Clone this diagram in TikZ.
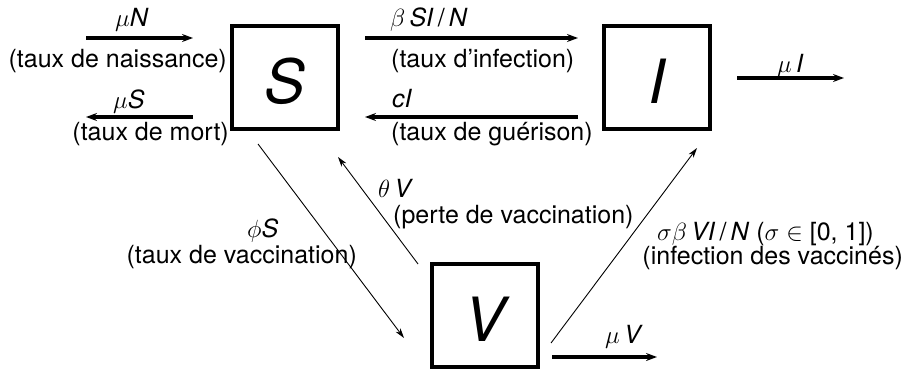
\documentclass[tikz,border=0pt]{standalone}
\usepackage{fontspec}
\setmainfont{TeX Gyre Heros}
\usetikzlibrary{arrows.meta}
\begin{document}
\begin{tikzpicture}[x=1pt,y=-1pt,
  box/.style={draw,line width=4pt,minimum width=106pt,minimum height=103pt,inner sep=0pt,
    text height=52pt,text depth=0pt,font=\fontsize{61}{61}\selectfont\itshape},
  lbl/.style={inner sep=0pt,font=\fontsize{25}{30}\selectfont},
  thickarrow/.style={line width=3.6pt,-{Stealth[length=11pt,width=8pt]}},
  thinarrow/.style={line width=0.9pt,-{Stealth[length=10pt,width=6pt]}}]
\useasboundingbox (0,0) rectangle (907,369);
% compartments
\node[box] (S) at (285,77.5) {S};
\node[box] (I) at (657,77.5) {I};
\node[box] (V) at (484.5,315) {V};
% arrow end points
\coordinate (mNa) at (86,38);   \coordinate (mNb) at (193,38);
\coordinate (mSa) at (86,117);  \coordinate (mSb) at (193,117);
\coordinate (bSa) at (365,38);  \coordinate (bSb) at (578,38);
\coordinate (cIa) at (365,117); \coordinate (cIb) at (578,117);
\coordinate (mIa) at (737,78);  \coordinate (mIb) at (844,78);
\coordinate (mVa) at (552,357); \coordinate (mVb) at (657,357);
\coordinate (phA) at (258,144); \coordinate (phB) at (404,338);
\coordinate (thA) at (418,264); \coordinate (thB) at (338,157);
\coordinate (sgA) at (551,343); \coordinate (sgB) at (697,148);
% arrows
\draw[thickarrow] (mNa) -- (mNb);
\draw[thickarrow] (mSb) -- (mSa);
\draw[thickarrow] (bSa) -- (bSb);
\draw[thickarrow] (cIb) -- (cIa);
\draw[thickarrow] (mIa) -- (mIb);
\draw[thickarrow] (mVa) -- (mVb);
\draw[thinarrow] (phA) -- (phB);
\draw[thinarrow] (thA) -- (thB);
\draw[thinarrow] (sgA) -- (sgB);
% labels
\node[lbl,anchor=base west] (lmN) at (115,27) {$\mu$\textit{N}};
\node[lbl,anchor=base east] (lnai) at (227,67) {(taux de naissance)};
\node[lbl,anchor=base west] (lmS) at (113,108) {$\mu$\textit{S}};
\node[lbl,anchor=base east] (lmort) at (229,140) {(taux de mort)};
\node[lbl,anchor=base west] (lbeta) at (390,27) {$\beta$\,\textit{SI}\,/\,\textit{N}};
\node[lbl,anchor=base west] (linf) at (391,67) {(taux d’infection)};
\node[lbl,anchor=base west] (lcI) at (392,107) {\textit{cI}};
\node[lbl,anchor=base west] (lgue) at (391,140) {(taux de guérison)};
\node[lbl,anchor=base west] (lmI) at (777,72) {$\mu$\,\textit{I}};
\node[lbl,anchor=base west] (ltheta) at (378,197) {$\theta$\,\textit{V}};
\node[lbl,anchor=base west] (lperte) at (393,223) {(perte de vaccination)};
\node[lbl,anchor=base west] (lphi) at (247,237) {$\phi$\textit{S}};
\node[lbl,anchor=base east] (ltvac) at (357,263) {(taux de vaccination)};
\node[lbl,anchor=base west] (lsig) at (657,240) {$\sigma\beta$\,\textit{VI}\,/\,\textit{N} ($\sigma\in{}$[0, 1])};
\node[lbl,anchor=base east] (linfv) at (903,264) {(infection des vaccinés)};
\node[lbl,anchor=base west] (lmV) at (605,343) {$\mu$\,\textit{V}};
\end{tikzpicture}
\end{document}
